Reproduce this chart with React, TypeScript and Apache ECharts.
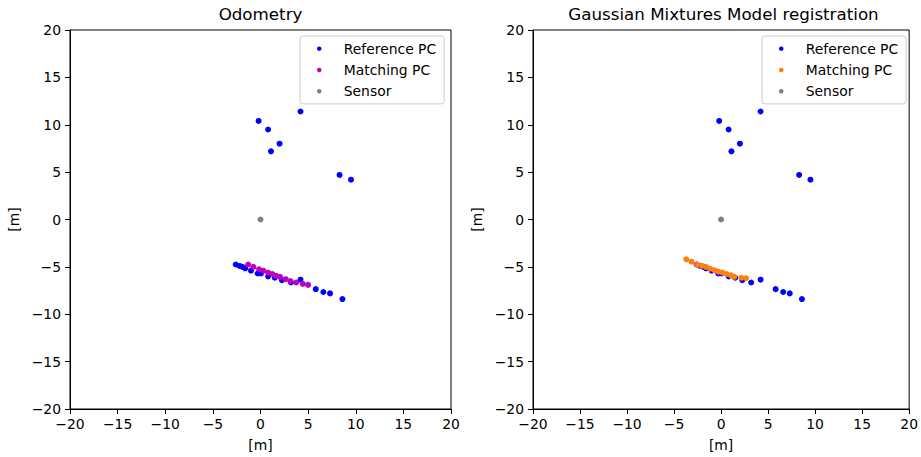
import React, { useEffect, useRef } from "react";
import * as echarts from "echarts";

// ---- data (metres) ----
const referencePC: number[][] = [
  [-0.2, 10.4], [0.8, 9.5], [2.0, 8.0], [1.1, 7.2], [4.2, 11.4], [8.3, 4.7], [9.5, 4.2],
  [-2.6, -4.75], [-2.2, -4.9], [-1.9, -5.0], [-1.6, -5.15], [-1.0, -5.4], [-0.3, -5.7],
  [0.05, -5.7], [0.8, -6.0], [1.5, -6.15], [2.25, -6.4], [3.2, -6.65], [4.2, -6.35],
  [5.8, -7.35], [6.6, -7.65], [7.3, -7.8], [8.6, -8.4],
];
const matchingOdometry: number[][] = [
  [-1.3, -4.75], [-0.75, -5.0], [-0.15, -5.25], [0.3, -5.4], [0.8, -5.6], [1.25, -5.75],
  [1.65, -5.95], [2.05, -6.05], [2.65, -6.3], [3.15, -6.5], [3.75, -6.65], [4.45, -6.8], [5.0, -6.9],
];
const matchingGMM: number[][] = [
  [-3.7, -4.2], [-3.15, -4.45], [-2.55, -4.75], [-2.05, -4.9], [-1.6, -5.0], [-1.15, -5.2],
  [-0.7, -5.35], [-0.3, -5.5], [0.15, -5.6], [0.6, -5.75], [1.05, -5.9], [1.4, -6.05],
  [2.15, -6.15], [2.65, -6.2],
];
const sensor: number[][] = [[0, 0]];

const titles = ["Odometry", "Gaussian Mixtures Model registration"];
const legendNames = ["Reference PC", "Matching PC", "Sensor"];
const axisMin = -20;
const axisMax = 20;
const tickStep = 5;

const FONT = "DejaVu Sans";
const BLUE = "#0000ff";
const MAGENTA = "#bf00bf";
const ORANGE = "#ff7f0e";
const GRAY = "#808080";

const fmt = (v: number) => (v < 0 ? "\u2212" + Math.abs(v) : String(v));

export default function App() {
  const ref = useRef<HTMLDivElement>(null);
  useEffect(() => {
    if (!ref.current) return;
    const chart = echarts.init(ref.current, undefined, { renderer: "svg" });
    const grids = [
      { left: 70, top: 30, width: 381, height: 380 },
      { left: 533, top: 30, width: 381, height: 380 },
    ];
    const xAxis = grids.map((_, i) => ({
      type: "value",
      gridIndex: i,
      min: axisMin,
      max: axisMax,
      interval: tickStep,
      name: "[m]",
      nameLocation: "middle",
      nameGap: 29,
      nameTextStyle: { fontFamily: FONT, fontSize: 13.9, color: "#000" },
      axisLine: { show: true, onZero: false, lineStyle: { color: "#000", width: 1 } },
      axisTick: { show: true, length: 5, lineStyle: { color: "#000", width: 1 } },
      axisLabel: { formatter: fmt, fontFamily: FONT, fontSize: 13.9, color: "#000", margin: 8 },
      splitLine: { show: false },
    }));
    const yAxis = grids.map((_, i) => ({
      type: "value",
      gridIndex: i,
      min: axisMin,
      max: axisMax,
      interval: tickStep,
      name: "[m]",
      nameLocation: "middle",
      nameGap: 49,
      nameRotate: 90,
      nameTextStyle: { fontFamily: FONT, fontSize: 13.9, color: "#000" },
      axisLine: { show: true, onZero: false, lineStyle: { color: "#000", width: 1 } },
      axisTick: { show: true, length: 5, lineStyle: { color: "#000", width: 1 } },
      axisLabel: { formatter: fmt, fontFamily: FONT, fontSize: 13.9, color: "#000", margin: 9 },
      splitLine: { show: false },
    }));
    const mk = (prefix: string, idx: number, name: string, data: number[][], color: string) => ({
      type: "scatter",
      name: prefix + "|" + name,
      xAxisIndex: idx,
      yAxisIndex: idx,
      data,
      symbol: "circle",
      symbolSize: 6,
      itemStyle: { color, opacity: 1 },
      emphasis: { disabled: true },
    });
    const series = [
      mk("L", 0, legendNames[0], referencePC, BLUE),
      mk("L", 0, legendNames[1], matchingOdometry, MAGENTA),
      mk("L", 0, legendNames[2], sensor, GRAY),
      mk("R", 1, legendNames[0], referencePC, BLUE),
      mk("R", 1, legendNames[1], matchingGMM, ORANGE),
      mk("R", 1, legendNames[2], sensor, GRAY),
    ];
    const mkLegend = (prefix: string, left: number) => ({
      left,
      top: 36,
      orient: "vertical",
      selectedMode: false,
      data: legendNames.map((n) => ({ name: prefix + "|" + n, icon: "circle" })),
      formatter: (name: string) => name.split("|")[1],
      itemWidth: 39,
      itemHeight: 4.5,
      itemGap: 0,
      padding: [2, 8, 2, 17],
      backgroundColor: "rgba(255,255,255,0.8)",
      borderColor: "#cccccc",
      borderWidth: 1,
      borderRadius: 3,
      textStyle: { fontFamily: FONT, fontSize: 13.9, color: "#000", lineHeight: 21.3 },
    });
    chart.setOption({
      animation: false,
      backgroundColor: "#fff",
      textStyle: { fontFamily: FONT },
      grid: grids.map((g) => ({ ...g, show: true, borderColor: "#000", borderWidth: 1, backgroundColor: "transparent" })),
      xAxis,
      yAxis,
      series,
      legend: [mkLegend("L", 300), mkLegend("R", 762)],
      graphic: titles.map((t, i) => ({
        type: "text",
        x: grids[i].left + grids[i].width / 2,
        y: 14,
        style: {
          text: t,
          align: "center",
          verticalAlign: "middle",
          fontFamily: FONT,
          fontSize: 16.7,
          fill: "#000",
        },
      })),
    });
    return () => chart.dispose();
  }, []);
  return (
    <div
      ref={ref}
      style={{ position: "fixed", left: 0, top: 0, width: 921, height: 457, background: "#fff" }}
    />
  );
}
